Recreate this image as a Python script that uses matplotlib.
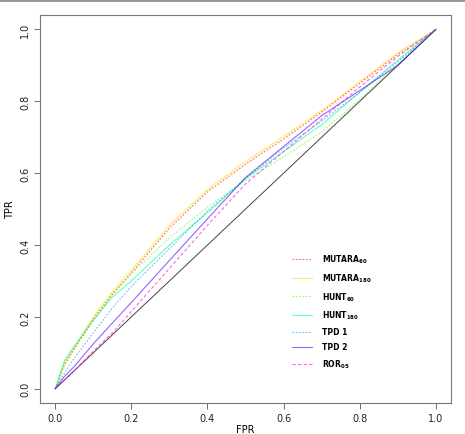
import matplotlib
matplotlib.use("Agg")
import matplotlib.pyplot as plt
from matplotlib.lines import Line2D

# FPR grid and TPR values
fpr = [0, 0.025, 0.05, 0.1, 0.15, 0.2, 0.3, 0.4, 0.5, 0.6, 0.7, 0.8, 0.9, 1.0]
mutara60 = [0, 0.068, 0.11, 0.192, 0.262, 0.322, 0.447, 0.548, 0.625, 0.695, 0.77, 0.85, 0.93, 1.0]
mutara180 = [0, 0.07, 0.115, 0.2, 0.27, 0.33, 0.455, 0.555, 0.632, 0.702, 0.775, 0.855, 0.935, 1.0]
hunt60 = [0, 0.075, 0.115, 0.195, 0.265, 0.32, 0.42, 0.505, 0.58, 0.645, 0.715, 0.805, 0.905, 1.0]
hunt180 = [0, 0.08, 0.118, 0.19, 0.255, 0.30, 0.40, 0.49, 0.585, 0.66, 0.735, 0.825, 0.915, 1.0]
tpd1 = [0, 0.045, 0.085, 0.155, 0.225, 0.285, 0.39, 0.495, 0.585, 0.67, 0.745, 0.825, 0.91, 1.0]
tpd2 = [0, 0.035, 0.062, 0.125, 0.183, 0.24, 0.357, 0.473, 0.588, 0.674, 0.76, 0.83, 0.90, 1.0]
ror05 = [0, 0.025, 0.05, 0.105, 0.155, 0.215, 0.335, 0.455, 0.57, 0.66, 0.75, 0.84, 0.925, 1.0]

series = [
    (r"$\mathbf{MUTARA}_{\mathbf{60}}$", mutara60, "#ff0000", (0, (1.5, 1.5))),
    (r"$\mathbf{MUTARA}_{\mathbf{180}}$", mutara180, "#ffdb00", "-"),
    (r"$\mathbf{HUNT}_{\mathbf{60}}$", hunt60, "#49ff00", (0, (1.5, 1.5))),
    (r"$\mathbf{HUNT}_{\mathbf{180}}$", hunt180, "#00ff92", "-"),
    ("TPD 1", tpd1, "#0092ff", (0, (1.5, 1.5))),
    ("TPD 2", tpd2, "#4900ff", "-"),
    (r"$\mathbf{ROR}_{\mathbf{05}}$", ror05, "#ff00db", (0, (3, 2))),
]

fig = plt.figure(figsize=(4.65, 4.35), dpi=100)
ax = fig.add_axes([0.086, 0.071, 0.884, 0.892])

ax.plot([0, 1], [0, 1], color="#444444", lw=0.7)
for label, vals, col, ls in series:
    ax.plot(fpr, vals, color=col, ls=ls, lw=0.8, alpha=0.6, label=label)

ax.set_xlim(-0.04, 1.04)
ax.set_ylim(-0.04, 1.04)
ticks = [0, 0.2, 0.4, 0.6, 0.8, 1.0]
ax.set_xticks(ticks)
ax.set_yticks(ticks)
ax.set_xticklabels([f"{t:.1f}" for t in ticks])
ax.set_yticklabels([f"{t:.1f}" for t in ticks], rotation=90, va="center")
ax.tick_params(labelsize=7, length=4, width=0.6, pad=3, colors="#555555", labelcolor="#222222")
for s in ax.spines.values():
    s.set_color("#777777")
    s.set_linewidth(0.8)
ax.set_xlabel("FPR", fontsize=7, labelpad=1)
ax.set_ylabel("TPR", fontsize=7, labelpad=4)

leg = ax.legend(loc="upper left", bbox_to_anchor=(0.597, 0.405), frameon=False,
                prop={"size": 5.5, "weight": "bold"}, handlelength=2.6,
                labelspacing=0.8, handletextpad=1.3)

fig.add_artist(Line2D([0, 1], [1 - 2 / 435] * 2, color="#888888", lw=1.2))

fig.savefig("out.png", dpi=100)
